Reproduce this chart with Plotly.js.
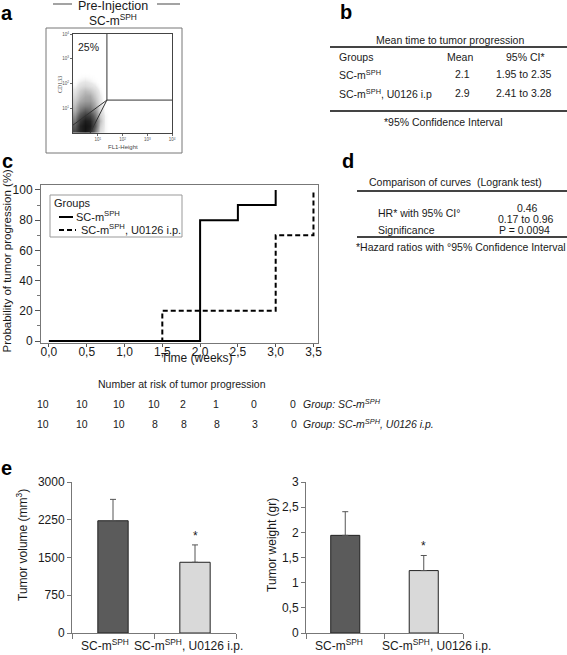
<!DOCTYPE html>
<html><head><meta charset="utf-8">
<script src="https://cdn.plot.ly/plotly-3.0.1.min.js"></script>
<style>html,body{margin:0;padding:0;background:#fff;}#chart{width:567px;height:655px;}</style>
</head><body><div id="chart"></div>
<script>
// ================= DATA =================
// (a) flow cytometry, Pre-Injection SC-mSPH (log10 units), density
const flowLogX = [0.1, 0.3, 0.5, 0.7, 0.9, 1.1, 1.3, 1.5];
const flowLogY = [0.1, 0.3, 0.5, 0.7, 0.9, 1.1, 1.3, 1.5, 1.7, 1.9, 2.1, 2.3, 2.5];
const flowDensity = [
  [0.70, 0.90, 1.00, 0.90, 0.50, 0.15, 0.05, 0],
  [0.60, 0.90, 1.00, 0.95, 0.60, 0.20, 0.05, 0],
  [0.50, 0.80, 0.95, 0.90, 0.60, 0.25, 0.05, 0],
  [0.40, 0.65, 0.80, 0.75, 0.50, 0.20, 0.05, 0],
  [0.30, 0.50, 0.60, 0.55, 0.40, 0.15, 0.03, 0],
  [0.25, 0.40, 0.45, 0.45, 0.30, 0.12, 0.02, 0],
  [0.20, 0.30, 0.35, 0.35, 0.25, 0.10, 0, 0],
  [0.15, 0.25, 0.30, 0.30, 0.20, 0.08, 0, 0],
  [0.10, 0.20, 0.25, 0.22, 0.15, 0.05, 0, 0],
  [0.05, 0.12, 0.15, 0.12, 0.08, 0.02, 0, 0],
  [0.02, 0.06, 0.08, 0.06, 0.03, 0, 0, 0],
  [0, 0.02, 0.03, 0.02, 0.01, 0, 0, 0],
  [0, 0, 0, 0, 0, 0, 0, 0]
];
const gateX = [0, 1.37, 1.37, null, 1.37, 4, null, 0.69, 1.37];
const gateY = [0.32, 1.33, 4, null, 1.33, 1.33, null, 0, 1.33];
const flowTickVals = [1, 2, 3, 4];
const flowTickText = ['10<sup>1</sup>', '10<sup>2</sup>', '10<sup>3</sup>', '10<sup>4</sup>'];
const cd133Gate = '25%';

// (b) mean time to tumor progression
const tbGroups = ['SC-m<sup>SPH</sup>', 'SC-m<sup>SPH</sup>, U0126 i.p'];
const tbMeans = ['2.1', '2.9'];
const tbCI = ['1.95 to 2.35', '2.41 to 3.28'];

// (c) Kaplan-Meier
const kmNames = ['SC-m<sup>SPH</sup>', 'SC-m<sup>SPH</sup>, U0126 i.p.'];
const kmTimeCtrl = [0, 2.0, 2.5, 3.0];
const kmProbCtrl = [0, 80, 90, 100];
const kmTimeU0126 = [0, 1.5, 3.0, 3.5];
const kmProbU0126 = [0, 20, 70, 100];
const kmTickVals = [0, 0.5, 1, 1.5, 2, 2.5, 3, 3.5];
const kmTickText = ['0,0', '0,5', '1,0', '1,5', '2,0', '2,5', '3,0', '3,5'];
const riskCtrl = [10, 10, 10, 10, 2, 1, 0, 0];
const riskU0126 = [10, 10, 10, 8, 8, 8, 3, 0];
const riskLabels = ['<i>Group: SC-m<sup>SPH</sup></i>', '<i>Group: SC-m<sup>SPH</sup>, U0126 i.p.</i>'];

// (d) logrank
const hrValue = '0.46';
const hrCI = '0.17 to 0.96';
const pValue = 'P = 0.0094';

// (e) tumor volume / weight
const barGroups = ['SC-m<sup>SPH</sup>', 'SC-m<sup>SPH</sup>, U0126 i.p.'];
const volume = [2230, 1405];
const volumeErr = [425, 345];
const weight = [1.94, 1.24];
const weightErr = [0.47, 0.30];
const volTicks = [0, 750, 1500, 2250, 3000];
const wTickVals = [0, 0.5, 1, 1.5, 2, 2.5, 3];
const wTickText = ['0', '0,5', '1', '1,5', '2', '2,5', '3'];

// ================= LAYOUT HELPERS =================
const W = 567, H = 655;
const FONT = 'Liberation Sans, Arial, Helvetica, sans-serif';
const px = x => x / W;
const py = y => 1 - y / H;
const TXT = '#1a1a1a';
function txt(text, x, y, o) {
  const f = Object.assign({family: FONT, size: 10.5, color: TXT}, (o && o.font) || {});
  const a = Object.assign({xref: 'paper', yref: 'paper', x: px(x), y: py(y), text: text,
    showarrow: false, xanchor: 'center', yanchor: 'middle', borderpad: 0}, o || {});
  a.font = f;
  return a;
}
function hline(x0, x1, y, w, c, dash) {
  return {type: 'line', xref: 'paper', yref: 'paper', x0: px(x0), x1: px(x1), y0: py(y), y1: py(y),
    line: {color: c || '#444', width: w || 1, dash: dash || 'solid'}};
}

const ann = [];
const shapes = [];

// panel letters
ann.push(txt('<b>a</b>', 7, 13, {font: {size: 20, color: '#000'}}));
ann.push(txt('<b>b</b>', 346, 12, {font: {size: 20, color: '#000'}}));
ann.push(txt('<b>c</b>', 7, 161, {font: {size: 20, color: '#000'}}));
ann.push(txt('<b>d</b>', 348, 161, {font: {size: 20, color: '#000'}}));
ann.push(txt('<b>e</b>', 6, 468, {font: {size: 20, color: '#000'}}));

// (a) texts
ann.push(txt('Pre-Injection', 113, 5.5, {font: {size: 12.5}}));
shapes.push(hline(53, 72, 4, 1.2, '#666'));
shapes.push(hline(157, 180, 4, 1.2, '#666'));
ann.push(txt('SC-m<sup>SPH</sup>', 113, 20.5, {font: {size: 12}}));
shapes.push({type: 'rect', xref: 'paper', yref: 'paper', x0: px(46), x1: px(182), y0: py(153), y1: py(28),
  line: {color: '#777', width: 1}});
ann.push(txt(cd133Gate, 88, 47.5, {font: {size: 10.5}}));
ann.push(txt('FL1-Height', 123, 146.5, {font: {size: 6, color: '#444'}}));
ann.push(txt('CD133', 60, 85, {textangle: -90, font: {size: 6, color: '#444', family: 'Liberation Serif, serif'}}));

// (b) table
ann.push(txt('Mean time to tumor progression', 450, 40));
shapes.push(hline(330, 567, 47, 2, '#444'));
ann.push(txt('Groups', 338, 57, {xanchor: 'left'}));
ann.push(txt('Mean', 460, 57));
ann.push(txt('95% CI*', 525, 57));
const rowY = [74, 93];
tbGroups.forEach((g, i) => {
  ann.push(txt(g, 338, rowY[i], {xanchor: 'left'}));
  ann.push(txt(tbMeans[i], 462, rowY[i]));
  ann.push(txt(tbCI[i], 524, rowY[i]));
});
shapes.push(hline(330, 567, 111, 2, '#444'));
ann.push(txt('*95% Confidence Interval', 443, 122));

// (c) texts
ann.push(txt('Probability of tumor progression (%)', 6.5, 261, {textangle: -90, font: {size: 11.5}}));
ann.push(txt('Time (weeks)', 197, 358, {font: {size: 12}}));
ann.push(txt('Number at risk of tumor progression', 182, 384, {font: {size: 10.5}}));
const riskColX = [43, 82, 119, 154, 183, 216, 254, 293];
riskCtrl.forEach((v, i) => ann.push(txt(String(v), riskColX[i], 404, {font: {size: 10.5}})));
riskU0126.forEach((v, i) => ann.push(txt(String(v), riskColX[i] + (v < 10 ? 1 : 0), 424, {font: {size: 10.5}})));
ann.push(txt(riskLabels[0], 302, 403, {xanchor: 'left', font: {size: 10.5}}));
ann.push(txt(riskLabels[1], 302, 423, {xanchor: 'left', font: {size: 10.5}}));

// (c) legend box (drawn to match the original compact legend)
shapes.push({type: 'rect', xref: 'paper', yref: 'paper', x0: px(50), x1: px(182), y0: py(237), y1: py(195),
  fillcolor: '#fff', line: {color: '#999', width: 1}, layer: 'above'});
ann.push(txt('Groups', 53, 203, {xanchor: 'left', font: {size: 11}}));
shapes.push(Object.assign(hline(59, 73, 217, 2, '#000'), {layer: 'above'}));
ann.push(txt(kmNames[0], 75, 216, {xanchor: 'left', font: {size: 11}}));
shapes.push(Object.assign(hline(59, 76, 230, 2, '#000', '5px,3px'), {layer: 'above'}));
ann.push(txt(kmNames[1], 80, 229, {xanchor: 'left', font: {size: 11}}));

// (d) table
ann.push(txt('Comparison of curves  (Logrank test)', 455, 182));
shapes.push(hline(357, 567, 191, 2, '#444'));
ann.push(txt('HR* with 95% CI°', 377, 213, {xanchor: 'left'}));
ann.push(txt(hrValue, 527, 208));
ann.push(txt(hrCI, 526, 219));
ann.push(txt('Significance', 377, 230, {xanchor: 'left'}));
ann.push(txt(pValue, 524, 230));
shapes.push(hline(357, 567, 237, 2, '#444'));
ann.push(txt('*Hazard ratios with °95% Confidence Interval', 355, 247, {xanchor: 'left'}));

// (e) texts
ann.push(txt('Tumor volume (mm<sup>3</sup>)', 22, 545, {textangle: -90, font: {size: 12}}));
ann.push(txt('Tumor weight (gr)', 272, 545, {textangle: -90, font: {size: 12}}));
// category labels, placed as in the original (offset from the bar centres)
const catLabelShift = {x3: [-8, -7], x4: [-6, 13]};
['x3', 'x4'].forEach(ax => {
  barGroups.forEach((g, i) => {
    ann.push({xref: ax, yref: 'paper', x: g, y: py(645), xshift: catLabelShift[ax][i], text: g, showarrow: false,
      xanchor: 'center', yanchor: 'middle', font: {family: FONT, size: 12, color: TXT}});
  });
});
ann.push({xref: 'x3', yref: 'y3', x: barGroups[1], y: volume[1] + volumeErr[1], text: '*', showarrow: false,
  yanchor: 'bottom', font: {family: FONT, size: 12, color: TXT}});
ann.push({xref: 'x4', yref: 'y4', x: barGroups[1], y: weight[1] + weightErr[1], text: '*', showarrow: false,
  yanchor: 'bottom', font: {family: FONT, size: 12, color: TXT}});

// ================= TRACES =================
const traces = [
  {type: 'heatmap', x: flowLogX, y: flowLogY, z: flowDensity, xaxis: 'x', yaxis: 'y', zmin: 0, zmax: 1,
   zsmooth: 'best', showscale: false, hoverinfo: 'skip',
   colorscale: [[0, 'rgba(255,255,255,0)'], [0.08, 'rgba(210,210,210,0.5)'], [0.3, 'rgb(170,170,170)'],
                [0.6, 'rgb(90,90,90)'], [1, 'rgb(20,20,20)']]},
  {type: 'scatter', mode: 'lines', x: gateX, y: gateY, xaxis: 'x', yaxis: 'y', showlegend: false,
   line: {color: '#333', width: 1}, hoverinfo: 'skip'},
  {type: 'scatter', mode: 'lines', x: kmTimeU0126, y: kmProbU0126, xaxis: 'x2', yaxis: 'y2', name: kmNames[1],
   showlegend: false, line: {shape: 'hv', color: '#000', width: 2, dash: '5px,3px'}},
  {type: 'scatter', mode: 'lines', x: kmTimeCtrl, y: kmProbCtrl, xaxis: 'x2', yaxis: 'y2', name: kmNames[0],
   showlegend: false, line: {shape: 'hv', color: '#000', width: 2}},
  {type: 'bar', x: barGroups, y: volume, xaxis: 'x3', yaxis: 'y3', width: 0.37, showlegend: false,
   marker: {color: ['#5b5b5b', '#d9d9d9'], line: {color: '#222', width: 1}},
   error_y: {type: 'data', symmetric: false, array: volumeErr, arrayminus: [0, 0], color: '#555', thickness: 1, width: 3}},
  {type: 'bar', x: barGroups, y: weight, xaxis: 'x4', yaxis: 'y4', width: 0.37, showlegend: false,
   marker: {color: ['#5b5b5b', '#d9d9d9'], line: {color: '#222', width: 1}},
   error_y: {type: 'data', symmetric: false, array: weightErr, arrayminus: [0, 0], color: '#555', thickness: 1, width: 3}}
];

const flowAxis = {range: [0, 4], tickvals: flowTickVals, ticktext: flowTickText, tickfont: {size: 4.5, color: '#555', family: FONT},
  ticks: 'outside', ticklen: 2, tickcolor: '#666', showline: true, mirror: true, linecolor: '#444', linewidth: 1,
  showgrid: false, zeroline: false, fixedrange: true};
const barY = {showline: true, linecolor: '#777', linewidth: 1, ticks: 'outside', ticklen: 4, tickcolor: '#777',
  showgrid: false, zeroline: false, tickfont: {size: 12, family: FONT, color: TXT}};
const barX = {type: 'category', range: [-0.5, 1.5], autorange: false, showline: true, linecolor: '#777', linewidth: 1,
  ticks: 'outside', ticklen: 5, tickcolor: '#777', tickson: 'boundaries', showticklabels: false, showgrid: false};

const layout = {
  width: W, height: H, margin: {l: 0, r: 0, t: 0, b: 0}, paper_bgcolor: '#fff', plot_bgcolor: 'rgba(0,0,0,0)',
  font: {family: FONT, color: TXT}, hovermode: false, showlegend: false,
  xaxis: Object.assign({}, flowAxis, {domain: [px(73), px(172)], anchor: 'y'}),
  yaxis: Object.assign({}, flowAxis, {domain: [py(133), py(34)], anchor: 'x'}),
  xaxis2: {domain: [px(41), px(318)], anchor: 'y2', range: [-0.105, 3.56], tickvals: kmTickVals, ticktext: kmTickText,
    ticks: 'outside', ticklen: 3, ticklabelstandoff: -5, tickcolor: '#555', showline: true, mirror: true, linecolor: '#777', linewidth: 1,
    showgrid: false, zeroline: false, tickfont: {size: 12, family: FONT, color: TXT}},
  yaxis2: {domain: [py(343), py(185)], anchor: 'x2', range: [-1.3, 103.3], tickvals: [0, 20, 40, 60, 80, 100],
    ticks: 'outside', ticklen: 5, tickcolor: '#555', minor: {ticks: 'outside', dtick: 10, ticklen: 3, tickcolor: '#777'},
    showline: true, mirror: true, linecolor: '#777', linewidth: 1, showgrid: false, zeroline: false,
    tickfont: {size: 12, family: FONT, color: TXT}},
  xaxis3: Object.assign({}, barX, {domain: [px(72), px(236)], anchor: 'y3'}),
  yaxis3: Object.assign({}, barY, {domain: [py(633), py(482)], anchor: 'x3', range: [0, 3000], tickvals: volTicks}),
  xaxis4: Object.assign({}, barX, {domain: [px(306), px(463)], anchor: 'y4'}),
  yaxis4: Object.assign({}, barY, {domain: [py(633), py(482)], anchor: 'x4', range: [0, 3], tickvals: wTickVals, ticktext: wTickText}),
  annotations: ann,
  shapes: shapes
};

Plotly.newPlot('chart', traces, layout, {staticPlot: true, displayModeBar: false});
</script>
</body></html>
